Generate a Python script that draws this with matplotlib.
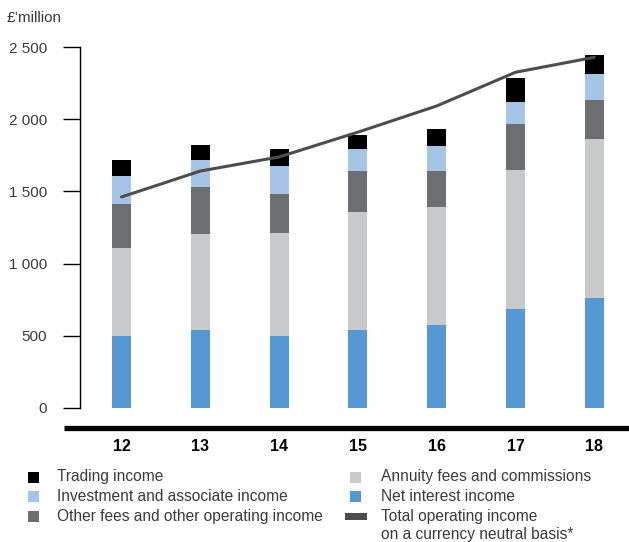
import matplotlib
matplotlib.use("Agg")
import matplotlib.pyplot as plt
from matplotlib.patches import Rectangle
from matplotlib.lines import Line2D

plt.rcParams['font.family'] = ['Liberation Sans', 'DejaVu Sans']

years = ["12", "13", "14", "15", "16", "17", "18"]
net_interest = [497, 538, 497, 538, 573, 684, 760]
annuity_fees = [611, 667, 715, 820, 819, 965, 1105]
other_fees = [305, 326, 271, 284, 250, 320, 270]
investment = [195, 188, 194, 153, 174, 153, 181]
trading = [111, 104, 118, 97, 118, 166, 132]
total_cn = [1462, 1642, 1740, 1912, 2094, 2328, 2432]

yticks = [0, 500, 1000, 1500, 2000, 2500]
ytick_labels = ["0", "500", "1 000", "1 500", "2 000", "2 500"]

series = [
    ("Net interest income", net_interest, "#5598d3"),
    ("Annuity fees and commissions", annuity_fees, "#c8c9ca"),
    ("Other fees and other operating income", other_fees, "#6d6e71"),
    ("Investment and associate income", investment, "#a6c4e6"),
    ("Trading income", trading, "#000000"),
]
line_color = "#4d4d4d"
text_color = "#3a3a3a"

W, H = 629, 542
fig = plt.figure(figsize=(W / 100, H / 100), dpi=100)

left_px, right_px = 80, 629
top_px, bot_px = 47.5, 407.5
ax = fig.add_axes([left_px / W, (H - bot_px) / H, (right_px - left_px) / W, (bot_px - top_px) / H])

x = list(range(len(years)))
bottom = [0] * len(years)
for name, vals, col in series:
    ax.bar(x, vals, width=0.241, bottom=bottom, color=col, linewidth=0, zorder=2)
    bottom = [b + v for b, v in zip(bottom, vals)]

ax.plot(x, total_cn, color=line_color, linewidth=2.2, solid_capstyle='round', zorder=3)

spacing = 78.8
ax.set_xlim(-(121.5 - left_px) / spacing, -(121.5 - left_px) / spacing + (right_px - left_px) / spacing)
ax.set_ylim(0, 2500)

for s in ["top", "right", "bottom"]:
    ax.spines[s].set_visible(False)
ax.spines["left"].set_linewidth(1.0)
ax.spines["left"].set_color("#000000")

ax.set_yticks(yticks)
ax.set_yticklabels(ytick_labels)
ax.tick_params(axis='y', direction='out', length=12.2, width=1.0, pad=11.5,
               labelsize=11, labelcolor=text_color, color="#000000")

ax.set_xticks(x)
ax.set_xticklabels(years, fontweight='bold', fontsize=11.5, color="#000000")
ax.tick_params(axis='x', length=0, pad=23)

# thick baseline below the axis
fig.add_artist(Line2D([64 / W, 1.0], [(H - 427.5) / H] * 2, color="#000000",
                      linewidth=3.8, solid_capstyle='butt'))

fig.text(7 / W, (H - 18) / H, "£’million", fontsize=11, color=text_color,
         ha='left', va='center')

# legend
fs = 11.2
legend_left = [
    ("Trading income", "#000000", 477),
    ("Investment and associate income", "#a6c4e6", 496.5),
    ("Other fees and other operating income", "#6d6e71", 516),
]
legend_right = [
    ("Annuity fees and commissions", "#c8c9ca", 477),
    ("Net interest income", "#5598d3", 496.5),
]
for label, col, yc in legend_left:
    fig.add_artist(Rectangle((28 / W, (H - yc - 5.5) / H), 11 / W, 11 / H,
                             facecolor=col, edgecolor='none', transform=fig.transFigure))
    fig.text(57 / W, (H - yc) / H, label, fontsize=fs, color=text_color, ha='left', va='center')
for label, col, yc in legend_right:
    fig.add_artist(Rectangle((350 / W, (H - yc - 5.5) / H), 11 / W, 11 / H,
                             facecolor=col, edgecolor='none', transform=fig.transFigure))
    fig.text(381 / W, (H - yc) / H, label, fontsize=fs, color=text_color, ha='left', va='center')
fig.add_artist(Rectangle((345 / W, (H - 516 - 3.5) / H), 22 / W, 7 / H,
                         facecolor=line_color, edgecolor='none', transform=fig.transFigure))
fig.text(381 / W, (H - 516) / H, "Total operating income", fontsize=fs, color=text_color,
         ha='left', va='center')
fig.text(381 / W, (H - 534) / H, "on a currency neutral basis*", fontsize=fs, color=text_color,
         ha='left', va='center')

fig.savefig("out.png", dpi=100)
